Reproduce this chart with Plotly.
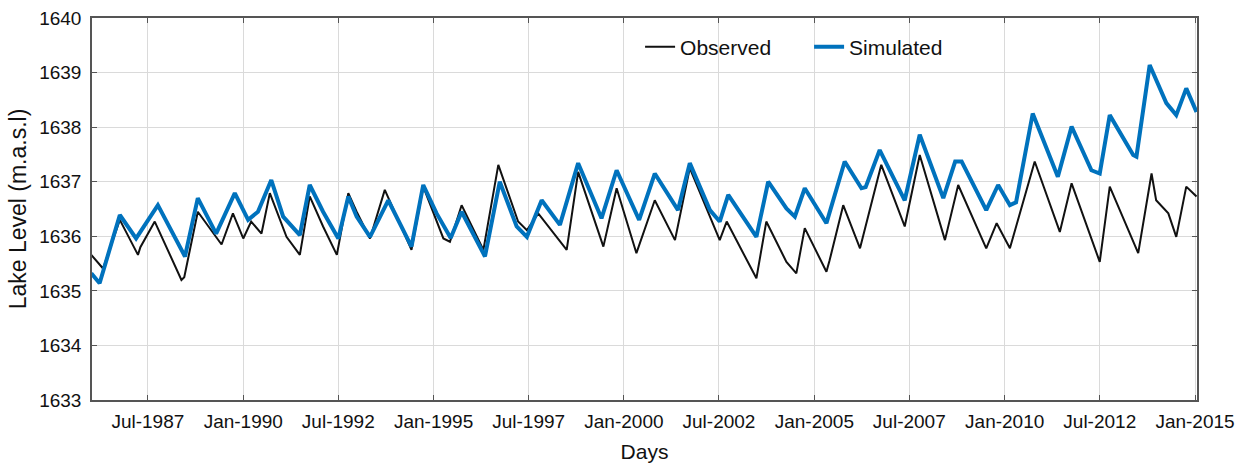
import plotly.graph_objects as go

obs_dates = ["1986-01-04","1986-04-27","1986-10-05","1987-03-28","1987-04-20","1987-09-05","1988-05-18","1988-06-14",
"1988-10-22","1989-06-07","1989-09-24","1990-01-01","1990-03-18","1990-06-25","1990-09-13","1991-02-20","1991-06-28",
"1991-10-01","1992-02-06","1992-06-17","1992-10-05","1992-12-24","1993-05-01","1993-09-20","1994-06-03","1994-09-24",
"1995-04-05","1995-06-07","1995-09-27","1996-04-23","1996-09-13","1997-03-22","1997-06-14","1997-10-01","1998-07-01",
"1998-10-19","1999-06-18","1999-10-23","2000-04-30","2000-10-23","2001-05-05","2001-09-24","2002-07-08","2002-09-13",
"2003-06-25","2003-09-28","2004-04-08","2004-07-12","2004-10-01","2005-04-27","2005-05-26","2005-10-05","2006-03-15",
"2006-04-20","2006-10-05","2007-05-18","2007-10-09","2008-06-07","2008-10-12","2009-07-08","2009-10-16","2010-02-20",
"2010-10-16","2011-06-14","2011-10-05","2012-07-01","2012-10-05","2013-07-05","2013-11-10","2013-12-24","2014-04-20",
"2014-07-05","2014-10-09","2015-01-15"]
obs_levels = [1635.66,1635.41,1636.30,1635.66,1635.80,1636.27,1635.20,1635.25,
1636.45,1635.85,1636.42,1635.96,1636.27,1636.05,1636.79,1635.99,1635.66,
1636.73,1636.18,1635.66,1636.79,1636.45,1635.96,1636.85,1635.75,1636.91,
1635.96,1635.90,1636.57,1635.75,1637.31,1636.27,1636.11,1636.42,1635.75,
1637.18,1635.81,1636.88,1635.69,1636.66,1635.93,1637.25,1635.93,1636.27,
1635.23,1636.27,1635.53,1635.32,1636.15,1635.35,1635.55,1636.57,1635.78,
1636.05,1637.31,1636.18,1637.49,1635.93,1636.94,1635.78,1636.24,1635.78,
1637.37,1636.08,1636.97,1635.53,1636.91,1635.69,1637.15,1636.66,1636.42,
1635.99,1636.91,1636.73]

sim_dates = ["1986-01-04","1986-03-25","1986-10-05","1987-03-10","1987-10-05","1988-06-21","1988-10-22","1989-04-16",
"1989-10-12","1990-02-17","1990-05-22","1990-09-27","1991-01-19","1991-06-28","1991-10-01","1992-02-06","1992-07-01",
"1992-10-05","1992-12-24","1993-05-01","1993-10-23","1994-06-03","1994-09-24","1995-01-30","1995-06-14","1995-09-27",
"1996-05-08","1996-09-27","1997-03-08","1997-06-14","1997-11-03","1998-04-27","1998-10-19","1999-05-31","1999-10-23",
"2000-05-26","2000-10-23","2001-06-03","2001-09-24","2002-04-05","2002-07-08","2002-09-28","2003-06-25","2003-10-16",
"2004-04-08","2004-06-28","2004-10-01","2005-04-27","2005-10-19","2006-03-29","2006-05-08","2006-09-20","2007-05-18",
"2007-10-09","2008-05-22","2008-09-13","2008-11-14","2009-07-08","2009-10-30","2010-02-20","2010-04-20","2010-09-27",
"2011-05-26","2011-10-05","2012-04-12","2012-07-01","2012-10-05","2013-05-18","2013-06-18","2013-10-23","2014-04-01",
"2014-07-05","2014-10-09","2015-01-15"]
sim_levels = [1635.32,1635.14,1636.39,1635.96,1636.57,1635.63,1636.70,1636.05,
1636.79,1636.30,1636.45,1637.03,1636.36,1636.02,1636.94,1636.45,1635.96,
1636.73,1636.36,1635.99,1636.66,1635.81,1636.94,1636.42,1635.97,1636.45,
1635.63,1637.00,1636.18,1635.99,1636.66,1636.21,1637.34,1636.33,1637.21,
1636.30,1637.15,1636.48,1637.34,1636.48,1636.27,1636.76,1635.99,1637.00,
1636.51,1636.36,1636.88,1636.24,1637.37,1636.88,1636.90,1637.58,1636.66,
1637.86,1636.70,1637.37,1637.37,1636.48,1636.94,1636.57,1636.62,1638.25,
1637.09,1638.01,1637.21,1637.15,1638.22,1637.49,1637.46,1639.14,1638.44,
1638.22,1638.71,1638.28]

tick_vals = ["1987-07-01","1990-01-01","1992-07-01","1995-01-01","1997-07-01","2000-01-01",
             "2002-07-01","2005-01-01","2007-07-01","2010-01-01","2012-07-01","2015-01-01"]
tick_text = ["Jul-1987","Jan-1990","Jul-1992","Jan-1995","Jul-1997","Jan-2000",
             "Jul-2002","Jan-2005","Jul-2007","Jan-2010","Jul-2012","Jan-2015"]
y_ticks = [1633, 1634, 1635, 1636, 1637, 1638, 1639, 1640]

FONT = "Liberation Sans, Arial, Helvetica, sans-serif"

fig = go.Figure()
fig.add_trace(go.Scatter(x=obs_dates, y=obs_levels, mode="lines", name="Observed",
                         line=dict(color="#111111", width=2)))
fig.add_trace(go.Scatter(x=sim_dates, y=sim_levels, mode="lines", name="Simulated",
                         line=dict(color="#0072BD", width=4)))

fig.update_layout(
    width=1244, height=463,
    margin=dict(l=92, r=47, t=18, b=63),
    paper_bgcolor="white", plot_bgcolor="white",
    font=dict(family=FONT, size=19, color="#111111"),
    showlegend=True,
    legend=dict(orientation="h", x=0.496, y=0.924, xanchor="left", yanchor="middle",
                bgcolor="rgba(0,0,0,0)", font=dict(size=21, family=FONT),
                entrywidth=124, entrywidthmode="pixels"),
    xaxis=dict(type="date", range=["1986-01-11", "2015-01-20"], automargin=False,
               tickvals=tick_vals, ticktext=tick_text,
               showgrid=True, gridcolor="#dadada", gridwidth=1,
               showline=True, linecolor="#555555", linewidth=1.5, mirror="ticks",
               ticks="inside", ticklen=5, tickcolor="#555555",
               tickfont=dict(size=19, family=FONT), ticklabelstandoff=3,
               title=dict(text="Days", font=dict(size=21, family=FONT), standoff=14)),
    yaxis=dict(range=[1633, 1640], tickvals=y_ticks, automargin=False,
               showgrid=True, gridcolor="#dadada", gridwidth=1,
               showline=True, linecolor="#555555", linewidth=1.5, mirror="ticks",
               ticks="inside", ticklen=5, tickcolor="#555555",
               tickfont=dict(size=19, family=FONT), ticklabelstandoff=5,
               title=dict(text="Lake Level (m.a.s.l)", font=dict(size=23, family=FONT), standoff=6)),
)

fig.write_html("out.html", config={"displayModeBar": False})

# remove the default page margin so the figure sits at the window origin
with open("out.html", "r", encoding="utf-8") as f:
    html = f.read()
html = html.replace("<head>", "<head><style>html,body{margin:0;padding:0;overflow:hidden;}</style>", 1)
with open("out.html", "w", encoding="utf-8") as f:
    f.write(html)
